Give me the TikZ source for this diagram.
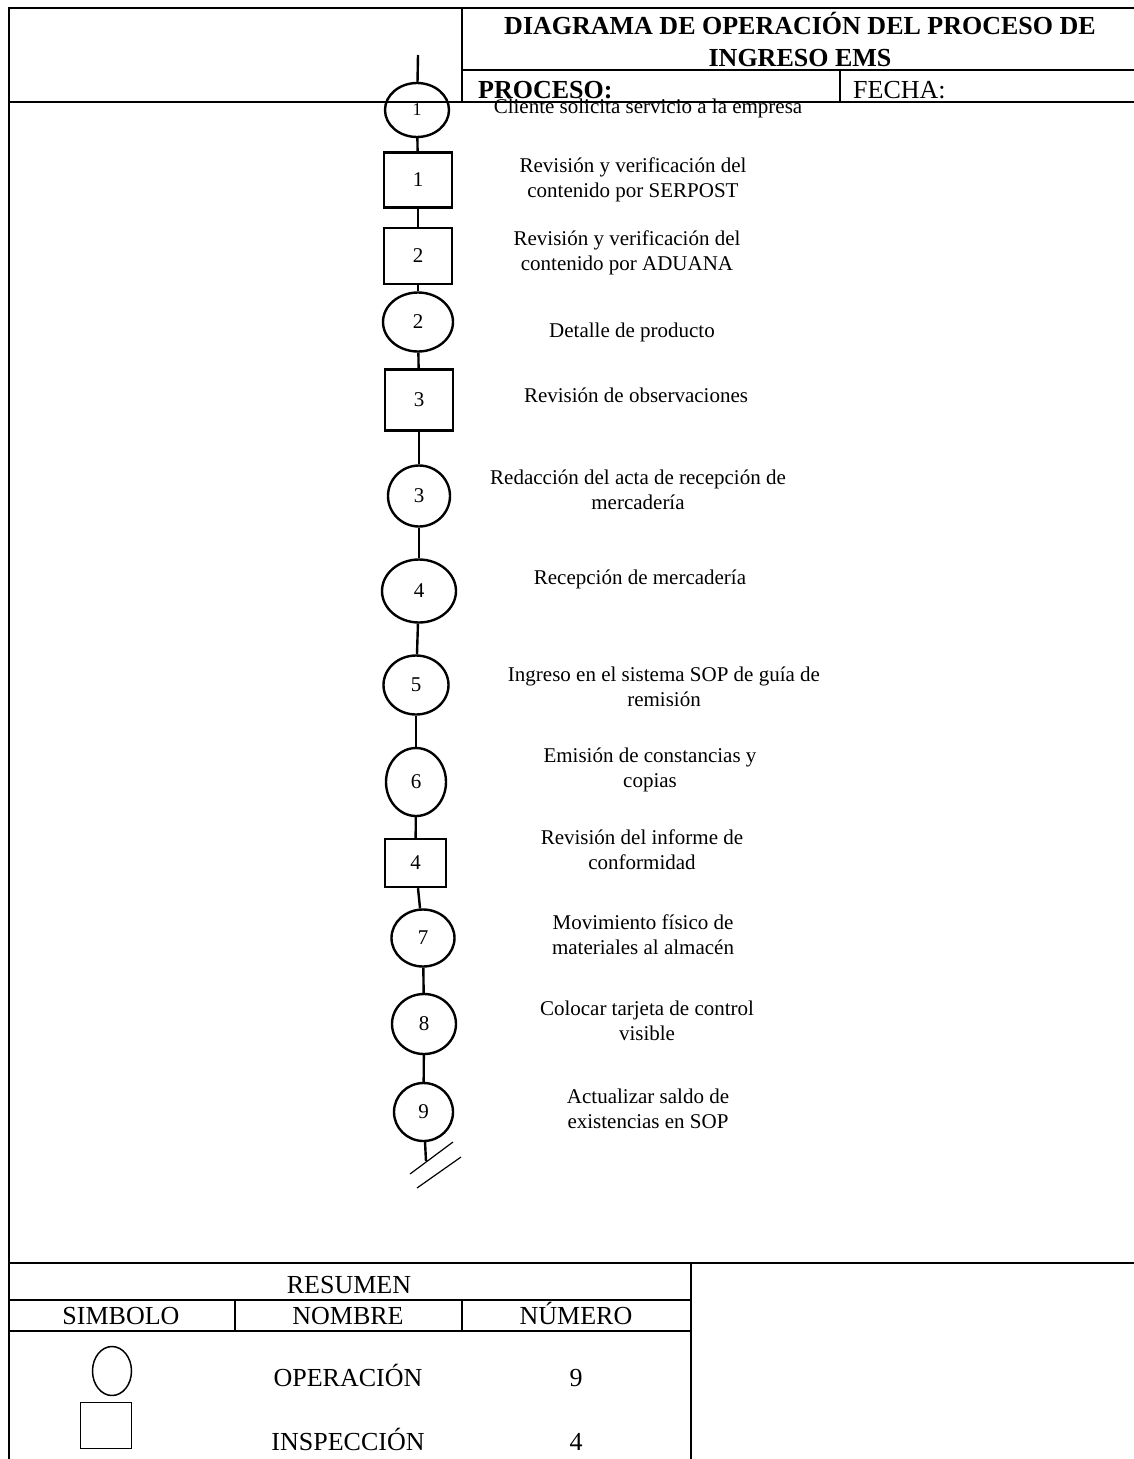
\documentclass[tikz,border=0pt]{standalone}
\usepackage{fontspec}
\setmainfont{Liberation Serif}
\usetikzlibrary{shapes.geometric}

\begin{document}
\begin{tikzpicture}[x=1pt, y=-1pt, line join=miter,
    frame/.style={line width=2.6pt},
    grid/.style={line width=1.4pt},
    link/.style={line width=2.4pt},
    oper/.style={draw, ellipse, line width=2.4pt, inner sep=0pt, font=\fontsize{21}{25}\selectfont},
    insp/.style={draw, rectangle, line width=2.4pt, inner sep=0pt, font=\fontsize{21}{25}\selectfont},
    desc/.style={align=center, inner sep=0pt, font=\fontsize{21}{25}\selectfont},
    head/.style={inner sep=0pt, font=\fontsize{26}{32}\selectfont},
    cell/.style={head, text height=19pt, text depth=5pt}]
  \useasboundingbox (0,0) rectangle (1134,1459);

  % header frame
  \draw[frame] (1134,8) -- (9,8) -- (9,1459);
  \draw[frame] (462,8) -- (462,102);
  \draw[frame] (462,70) -- (1134,70);
  \draw[frame] (840,70) -- (840,102);
  \draw[frame] (9,102) -- (1134,102);
  \node[head, align=center, font=\fontsize{26}{32}\bfseries] (title) at (800,39) {DIAGRAMA DE OPERACIÓN DEL PROCESO DE\\INGRESO EMS};
  \node[head, anchor=west, font=\fontsize{26}{32}\bfseries] (proceso) at (478,90) {PROCESO:};
  \node[head, anchor=west] (fecha) at (853,90) {FECHA:};

  % process chain
  \coordinate (start) at (418,55);
  \node[oper, minimum width=64, minimum height=54, font=\fontsize{18}{22}\selectfont] (o1) at (417,110) {1};
  \node[insp, minimum width=68, minimum height=55] (i1) at (418,180) {1};
  \node[insp, minimum width=68, minimum height=56] (i2) at (418,256) {2};
  \node[oper, minimum width=70, minimum height=59] (o2) at (418,322) {2};
  \node[insp, minimum width=68, minimum height=61] (i3) at (419,400) {3};
  \node[oper, minimum width=62, minimum height=61] (o3) at (419,496) {3};
  \node[oper, minimum width=74, minimum height=63] (o4) at (419,591) {4};
  \node[oper, minimum width=65, minimum height=59] (o5) at (416,685) {5};
  \node[oper, minimum width=60, minimum height=68] (o6) at (416,782) {6};
  \node[insp, minimum width=61, minimum height=48] (i4) at (415.5,863) {4};
  \node[oper, minimum width=63, minimum height=57] (o7) at (423,938) {7};
  \node[oper, minimum width=64, minimum height=60] (o8) at (424,1024) {8};
  \node[oper, minimum width=59, minimum height=58] (o9) at (423.5,1112) {9};
  \coordinate (end) at (426,1161);

  \draw[link] (start) -- (o1);
  \draw[link] (o1) -- (i1);
  \draw[link] (i1) -- (i2);
  \draw[link] (i2) -- (o2);
  \draw[link] (o2) -- (i3);
  \draw[link] (i3) -- (o3);
  \draw[link] (o3) -- (o4);
  \draw[link] (o4) -- (o5);
  \draw[link] (o5) -- (o6);
  \draw[link] (o6) -- (i4);
  \draw[link] (i4) -- (o7);
  \draw[link] (o7) -- (o8);
  \draw[link] (o8) -- (o9);
  \draw[link] (o9) -- (end);
  % end mark
  \draw[line width=1.2pt] (410,1174) -- (453,1142);
  \draw[line width=1.2pt] (417,1188) -- (461,1157);

  % descriptions
  \node[desc] (t1) at (648,108) {Cliente solicita servicio a la empresa};
  \node[desc] (t2) at (633,180) {Revisión y verificación del\\contenido por SERPOST};
  \node[desc] (t3) at (627,253) {Revisión y verificación del\\contenido por ADUANA};
  \node[desc] (t4) at (632,332) {Detalle de producto};
  \node[desc] (t5) at (636,395) {Revisión de observaciones};
  \node[desc] (t6) at (638,490) {Redacción del acta de recepción de\\mercadería};
  \node[desc] (t7) at (640,579) {Recepción de mercadería};
  \node[desc] (t8) at (664,687) {Ingreso en el sistema SOP de guía de\\remisión};
  \node[desc] (t9) at (650,770) {Emisión de constancias y\\copias};
  \node[desc] (t10) at (642,850) {Revisión del informe de\\conformidad};
  \node[desc] (t11) at (643,935) {Movimiento físico de\\materiales al almacén};
  \node[desc] (t12) at (647,1021) {Colocar tarjeta de control\\visible};
  \node[desc] (t13) at (648,1109) {Actualizar saldo de\\existencias en SOP};

  % summary table
  \draw[frame] (9,1263) -- (1134,1263);
  \draw[grid] (691,1263) -- (691,1459);
  \draw[grid] (9,1300) -- (691,1300);
  \draw[grid] (235,1300) -- (235,1331);
  \draw[grid] (462,1300) -- (462,1331);
  \draw[grid] (9,1331) -- (691,1331);
  \node[cell] (resumen) at (349,1286.5) {RESUMEN};
  \node[cell] (simbolo) at (121,1317.5) {SIMBOLO};
  \node[cell] (nombre) at (348,1317.5) {NOMBRE};
  \node[cell] (numero) at (576,1317.5) {NÚMERO};
  \node[draw, ellipse, line width=1.5pt, minimum width=39, minimum height=49] (symop) at (112,1371) {};
  \node[draw, rectangle, line width=1.5pt, minimum width=51, minimum height=46] (symin) at (106,1425.5) {};
  \node[cell] (operacion) at (348,1379.5) {OPERACIÓN};
  \node[cell] (nop) at (576,1379.5) {9};
  \node[cell] (inspeccion) at (348,1443.5) {INSPECCIÓN};
  \node[cell] (nin) at (576,1443.5) {4};
\end{tikzpicture}
\end{document}
